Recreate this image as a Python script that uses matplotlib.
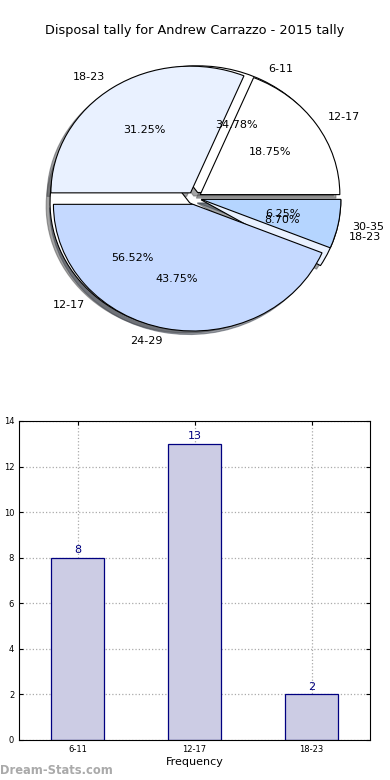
import matplotlib
matplotlib.use("Agg")
import matplotlib.pyplot as plt

TITLE = "Disposal tally for Andrew Carrazzo - 2015 tally"

# first pie (frequency of disposal tallies)
pie1_labels = ["6-11", "12-17", "18-23"]
pie1_values = [8, 13, 2]

# second pie (drawn on top)
pie2_labels = ["12-17", "18-23", "24-29", "30-35"]
pie2_values = [3, 5, 7, 1]

# bar chart
bar_labels = ["6-11", "12-17", "18-23"]
bar_values = [8, 13, 2]

colour_for = {
    "6-11": "#ffffff",
    "12-17": "#ffffff",
    "18-23": "#e9f1ff",
    "24-29": "#c5d9ff",
    "30-35": "#b5d5ff",
}

plt.rcParams['font.family'] = 'DejaVu Sans'

fig = plt.figure(figsize=(3.9, 7.8), dpi=100)

# ---- pie chart ----
ax1 = fig.add_axes([0.051, 0.543, 0.895, 0.406])
for labels, values in [(pie1_labels, pie1_values), (pie2_labels, pie2_values)]:
    ax1.pie(values, labels=labels, colors=[colour_for[l] for l in labels],
            explode=[0.05] * len(values), autopct='%1.2f%%', shadow=True,
            wedgeprops={'edgecolor': 'black', 'linewidth': 0.8},
            textprops={'fontsize': 8})
ax1.set_aspect('auto')
ax1.set_xlim(-1.25, 1.25)
ax1.set_ylim(-1.25, 1.25)
fig.text(0.5, 0.961, TITLE, ha='center', va='center', fontsize=9.3)

# ---- bar chart ----
ax2 = fig.add_axes([0.049, 0.0513, 0.9, 0.409])
xs = list(range(len(bar_values)))
ax2.bar(xs, bar_values, width=0.45, color='#cccce4',
        edgecolor='#000080', linewidth=0.9, zorder=2)
for x, v in zip(xs, bar_values):
    ax2.text(x, v + 0.12, str(v), ha='center', va='bottom', color='#000080', fontsize=8)
ax2.set_xlim(-0.5, 2.5)
ax2.set_ylim(0, 14)
ax2.set_yticks(range(0, 15, 2))
ax2.set_xticks(xs)
ax2.set_xticklabels(bar_labels)
ax2.tick_params(direction='in', labelsize=6, length=3, top=True, right=True)
ax2.grid(True, linestyle=':', color='#aaaaaa', linewidth=0.9)
ax2.set_xlabel("Frequency", fontsize=8, labelpad=2)
ax2.set_ylabel("Disposal Tally", fontsize=8)
ax2.yaxis.set_label_coords(-0.075, 0.5)

fig.text(0.0, 0.012, "Dream-Stats.com", color='#aaaaaa', fontsize=8.3,
         fontweight='bold', ha='left', va='center')

fig.savefig("out.png", dpi=100)
